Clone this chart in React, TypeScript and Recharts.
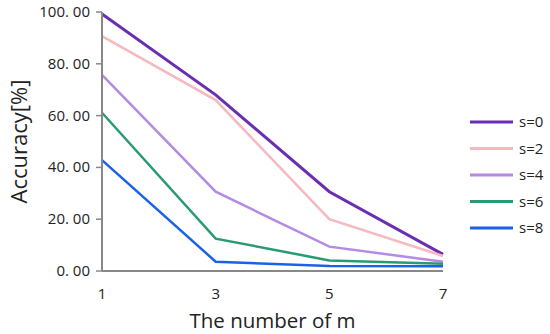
import React from "react";
import { LineChart, Line, XAxis, YAxis, Legend } from "recharts";

const mValues = [1, 3, 5, 7];
const s0 = [99.2, 68.0, 30.6, 6.4];
const s2 = [90.7, 66.0, 20.0, 5.8];
const s4 = [75.7, 30.6, 9.4, 3.6];
const s6 = [61.1, 12.5, 4.1, 2.8];
const s8 = [42.8, 3.6, 1.9, 1.8];
const yTicks = [0, 20, 40, 60, 80, 100];
const xTicks = [1, 3, 5, 7];

const seriesNames = ["s=0", "s=2", "s=4", "s=6", "s=8"];
const seriesColors = ["#6a2fb0", "#f7b8bf", "#b38ae4", "#2a9a72", "#1a62e8"];
const seriesData = [s0, s2, s4, s6, s8];

const data = mValues.map((m, i) => {
  const row: Record<string, number> = { m };
  seriesNames.forEach((n, k) => (row[n] = seriesData[k][i]));
  return row;
});

const FONT = "'Open Sans', 'Noto Sans', sans-serif";

const fmt = (v: number) => {
  const s = v.toFixed(2);
  const [a, b] = s.split(".");
  return `${a}. ${b}`;
};

const YTick = (props: any) => {
  const { x, y, payload } = props;
  return (
    <text x={x - 4} y={y} dy={5} textAnchor="end" fontSize={15} fill="#222" fontFamily={FONT}>
      {fmt(payload.value)}
    </text>
  );
};

const XTick = (props: any) => {
  const { x, y, payload } = props;
  return (
    <text x={x} y={y} dy={20} textAnchor="middle" fontSize={15} fill="#222" fontFamily={FONT}>
      {payload.value}
    </text>
  );
};

const LegendContent = () => (
  <svg width={80} height={140} style={{ display: "block" }}>
    {seriesNames.map((n, i) => (
      <g key={n}>
        <line x1={0} x2={43} y1={12 + i * 26.5} y2={12 + i * 26.5} stroke={seriesColors[i]} strokeWidth={3} />
        <text x={49} y={12 + i * 26.5} dy={5} fontSize={15} fill="#222" fontFamily={FONT}>
          {n}
        </text>
      </g>
    ))}
  </svg>
);

export default function App() {
  return (
    <div style={{ position: "absolute", left: 0, top: 0, width: 550, height: 334, background: "#fff" }}>
      <LineChart width={550} height={334} data={data} margin={{ top: 12, right: 27, left: 0, bottom: 0 }}>
        <XAxis
          dataKey="m"
          type="number"
          domain={[1, 7]}
          ticks={xTicks}
          interval={0}
          tickLine={false}
          axisLine={{ stroke: "#888", strokeWidth: 2 }}
          tick={<XTick />}
          height={63}
          label={{ value: "The number of m", position: "insideBottom", offset: 6, fontSize: 20.5, fill: "#222", fontFamily: FONT }}
        />
        <YAxis
          domain={[0, 100]}
          ticks={yTicks}
          interval={0}
          width={102}
          tickSize={6}
          tickLine={{ stroke: "#888", strokeWidth: 1.5 }}
          axisLine={{ stroke: "#888", strokeWidth: 2 }}
          tick={<YTick />}
          label={{ value: "Accuracy[%]", angle: -90, position: "insideLeft", offset: 19, fontSize: 22, fill: "#222", fontFamily: FONT, style: { textAnchor: "middle" } }}
        />
        <Legend
          layout="vertical"
          align="right"
          verticalAlign="middle"
          content={<LegendContent />}
          wrapperStyle={{ position: "absolute", left: 470, top: 110, width: 80, height: 140 }}
        />
        {seriesNames.map((n, i) => (
          <Line
            key={n}
            dataKey={n}
            stroke={seriesColors[i]}
            strokeWidth={i === 0 ? 3 : 2.5}
            dot={false}
            isAnimationActive={false}
            type="linear"
          />
        ))}
      </LineChart>
    </div>
  );
}
